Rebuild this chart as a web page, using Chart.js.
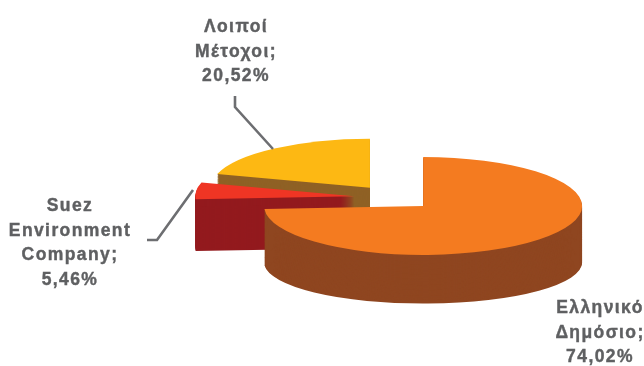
<!DOCTYPE html>
<html>
<head>
<meta charset="utf-8">
<style>html,body{margin:0;padding:0;background:#fff}#w{width:644px;height:366px}canvas{display:block}</style>
<script src="https://cdn.jsdelivr.net/npm/chart.js@4"></script>
</head>
<body>
<div id="w"><canvas id="c"></canvas></div>
<script>
const categories = ['Ελληνικό Δημόσιο', 'Suez Environment Company', 'Λοιποί Μέτοχοι'];
const values = [74.02, 5.46, 20.52];
const topColors = ['#f47b20', '#ef3524', '#fdb813'];
const wallColors = ['#8f4620', '#931a1e', '#8f6125'];
const labelLines = [
  ['Ελληνικό', 'Δημόσιο;', '74,02%'],
  ['Suez', 'Environment', 'Company;', '5,46%'],
  ['Λοιποί', 'Μέτοχοι;', '20,52%']
];

const EXPLODE = 40, K_TOP = 0.308, K_BOTTOM = 0.258;
const DEPTH = [58, 52, 58];
const LABEL_POS = [[600, 308], [70, 206], [236, 27]];
const LEADERS = [[[235, 96], [235, 107], [273, 149]], [[147, 240], [157, 240], [193, 190]]];

const pie3d = {
  id: 'pie3d',
  beforeDatasetsDraw(chart) {
    const ctx = chart.ctx, arcs = chart.getDatasetMeta(0).data;
    const paint = (arc, i, t, color) => {
      const saved = arc.options;
      const mid = (arc.startAngle + arc.endAngle) / 2;
      const k = K_TOP + (K_BOTTOM - K_TOP) * t;
      ctx.save();
      ctx.translate(0, arc.y + DEPTH[i] * t);
      ctx.scale(1, k);
      ctx.translate(0, -arc.y);
      ctx.translate(Math.cos(mid) * EXPLODE, Math.sin(mid) * EXPLODE);
      arc.options = Object.assign({}, saved, {backgroundColor: color, borderWidth: 0, offset: 0});
      arc.draw(ctx);
      arc.options = saved;
      ctx.restore();
    };
    [2, 1, 0].forEach(i => {
      const arc = arcs[i];
      for (let d = DEPTH[i]; d > 0; d--) paint(arc, i, d / DEPTH[i], wallColors[i]);
      paint(arc, i, 0, topColors[i]);
    });
    return false;
  },
  afterDraw(chart) {
    const ctx = chart.ctx;
    ctx.save();
    ctx.strokeStyle = '#6d6e71';
    ctx.lineWidth = 2.6;
    LEADERS.forEach(pts => {
      ctx.beginPath();
      pts.forEach((p, n) => n ? ctx.lineTo(p[0], p[1]) : ctx.moveTo(p[0], p[1]));
      ctx.stroke();
    });
    ctx.fillStyle = '#5f6062';
    ctx.strokeStyle = '#5f6062';
    ctx.lineWidth = 0.4;
    ctx.font = 'bold 17.5px "Liberation Sans"';
    ctx.letterSpacing = '1.4px';
    ctx.textAlign = 'center';
    ctx.textBaseline = 'middle';
    labelLines.forEach((lines, i) => {
      lines.forEach((s, n) => {
        const y = LABEL_POS[i][1] + n * 24.7;
        ctx.fillText(s, LABEL_POS[i][0], y);
        ctx.strokeText(s, LABEL_POS[i][0], y);
      });
    });
    ctx.restore();
  }
};

new Chart(document.getElementById('c'), {
  type: 'pie',
  data: {labels: categories, datasets: [{data: values, backgroundColor: topColors, borderWidth: 0, clip: false}]},
  options: {
    responsive: true, maintainAspectRatio: false, animation: false,
    radius: 159,
    layout: {padding: {left: 144, top: 29, right: 0, bottom: 0}},
    plugins: {legend: {display: false}, tooltip: {enabled: false}}
  },
  plugins: [pie3d]
});
</script>
</body>
</html>
